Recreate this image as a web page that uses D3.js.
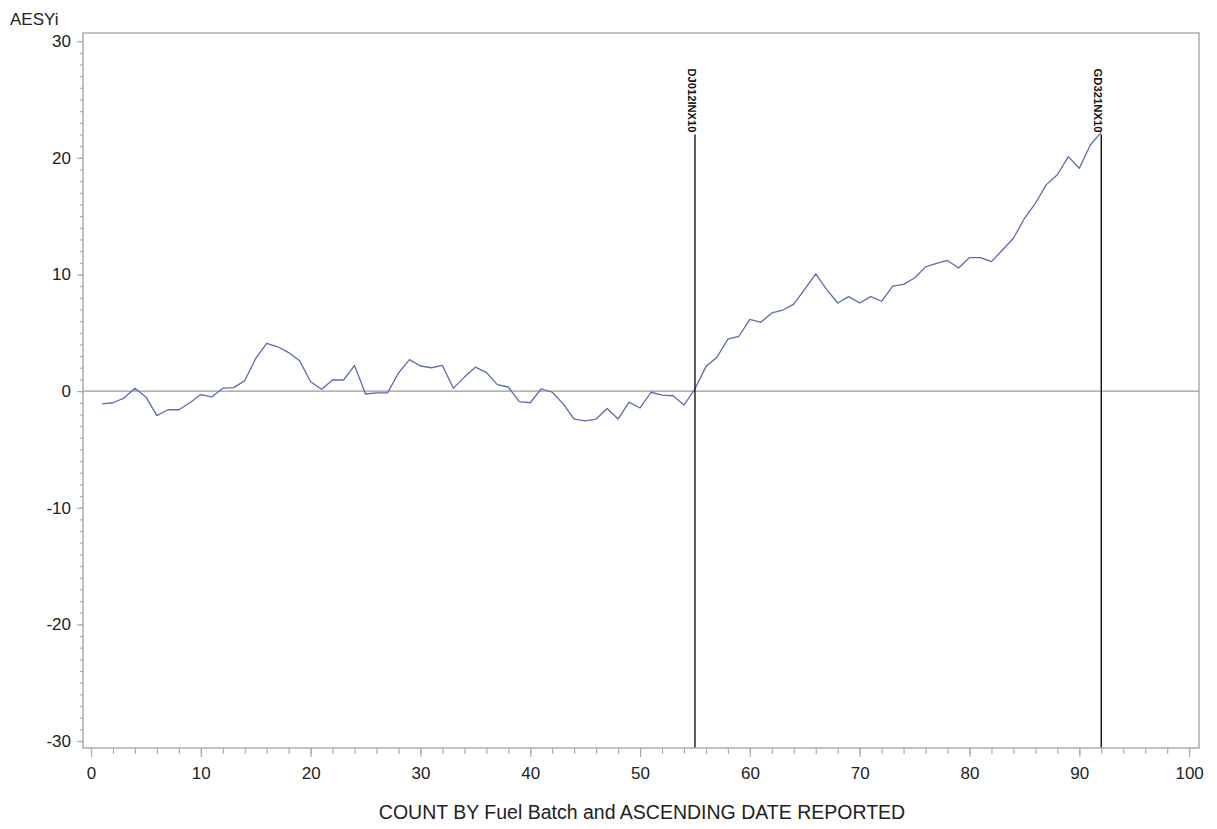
<!DOCTYPE html>
<html><head><meta charset="utf-8">
<script src="https://cdn.jsdelivr.net/npm/d3@7"></script>
<style>body{margin:0;background:#fff;}svg{display:block;font-family:"Liberation Sans",Arial,sans-serif;}</style>
</head><body>
<svg id="chart" width="1217" height="829"></svg>
<script>
const counts = d3.range(1, 93);
const aesyi = [
 -1.1,-1.0,-0.6,0.25,-0.5,-2.1,-1.6,-1.6,-1.0,-0.3,
 -0.5,0.25,0.3,0.9,2.8,4.1,3.8,3.3,2.6,0.8,
 0.15,0.95,0.95,2.2,-0.25,-0.15,-0.15,1.55,2.7,2.15,
 2.0,2.2,0.25,1.2,2.05,1.6,0.55,0.35,-0.9,-1.0,
 0.2,-0.1,-1.1,-2.4,-2.55,-2.4,-1.5,-2.4,-0.95,-1.45,
 -0.1,-0.35,-0.4,-1.2,0.2,2.1,2.9,4.45,4.7,6.15,
 5.9,6.7,6.95,7.45,8.75,10.05,8.7,7.55,8.1,7.55,
 8.1,7.7,9.0,9.15,9.7,10.65,10.95,11.2,10.55,11.45,
 11.45,11.1,12.1,13.1,14.8,16.1,17.7,18.55,20.1,19.1,
 21.1,22.2
];
const refCounts = [55, 92];
const refLabels = ["DJ012INX10", "GD321NX10"];
const refTop = 22;
const xTicks = [0,10,20,30,40,50,60,70,80,90,100];
const yTicks = [-30,-20,-10,0,10,20,30];
const yLabel = "AESYi";
const xLabel = "COUNT BY Fuel Batch and ASCENDING DATE REPORTED";

const svg = d3.select("#chart");
const L = 83, R = 1199, T = 33, B = 748;
const x = d3.scaleLinear().domain([-0.73, 100.9]).range([L, R]);
const y = d3.scaleLinear().domain([-30.6, 30.7]).range([B, T]);
const frameCol = "#a9adb2";
const fmt = d => String(d);

// zero reference line
svg.append("line").attr("x1", L).attr("x2", R).attr("y1", y(0)).attr("y2", y(0))
  .attr("stroke", "#9a9a9a").attr("stroke-width", 1.2);

// series line
const line = d3.line().x((d,i) => x(counts[i])).y(d => y(d));
svg.append("path").datum(aesyi).attr("d", line).attr("fill", "none")
  .attr("stroke", "#5c6cb0").attr("stroke-width", 1.3).attr("stroke-linejoin", "round");

// vertical reference lines with labels
refCounts.forEach((c, i) => {
  svg.append("line").attr("x1", x(c)).attr("x2", x(c)).attr("y1", B).attr("y2", y(refTop))
    .attr("stroke", "#111").attr("stroke-width", 1.4);
  svg.append("text").attr("transform", `translate(${x(c) - 7},${y(refTop) - 2}) rotate(90)`)
    .attr("text-anchor", "end").attr("font-size", 10).attr("font-weight", "bold").attr("fill", "#111")
    .attr("textLength", 64).attr("lengthAdjust", "spacingAndGlyphs")
    .text(refLabels[i]);
});

// frame
svg.append("rect").attr("x", L).attr("y", T).attr("width", R - L).attr("height", B - T)
  .attr("fill", "none").attr("stroke", frameCol).attr("stroke-width", 1.5);

// x axis
const xAxis = svg.append("g").attr("transform", `translate(0,${B})`);
xAxis.call(d3.axisBottom(x).tickValues(d3.range(0, 101, 2)).tickSize(6).tickFormat(""));
xAxis.call(g => g.select(".domain").remove());
xAxis.selectAll("line").attr("stroke", frameCol).attr("stroke-width", 1.2);
const xMaj = svg.append("g").attr("transform", `translate(0,${B})`)
  .call(d3.axisBottom(x).tickValues(xTicks).tickSize(9).tickPadding(10).tickFormat(fmt));
xMaj.select(".domain").remove();
xMaj.selectAll("line").attr("stroke", frameCol).attr("stroke-width", 1.2);
xMaj.selectAll("text").attr("font-size", 17).attr("fill", "#222").attr("font-family", "Liberation Sans, Arial, sans-serif");

// y axis
const yAxis = svg.append("g").attr("transform", `translate(${L},0)`);
yAxis.call(d3.axisLeft(y).tickValues(d3.range(-30, 31, 1)).tickSize(3).tickFormat(""));
yAxis.select(".domain").remove();
yAxis.selectAll("line").attr("stroke", frameCol).attr("stroke-width", 1.2);
const yMaj = svg.append("g").attr("transform", `translate(${L},0)`)
  .call(d3.axisLeft(y).tickValues(yTicks).tickSize(6).tickPadding(6).tickFormat(fmt));
yMaj.select(".domain").remove();
yMaj.selectAll("line").attr("stroke", frameCol).attr("stroke-width", 1.2);
yMaj.selectAll("text").attr("font-size", 17).attr("fill", "#222").attr("font-family", "Liberation Sans, Arial, sans-serif");

// axis labels
svg.append("text").attr("x", 10).attr("y", 25).attr("font-size", 17).attr("fill", "#222").text(yLabel);
svg.append("text").attr("x", 642).attr("y", 819).attr("text-anchor", "middle")
  .attr("font-size", 19.5).attr("fill", "#222").text(xLabel);
</script>
</body></html>
